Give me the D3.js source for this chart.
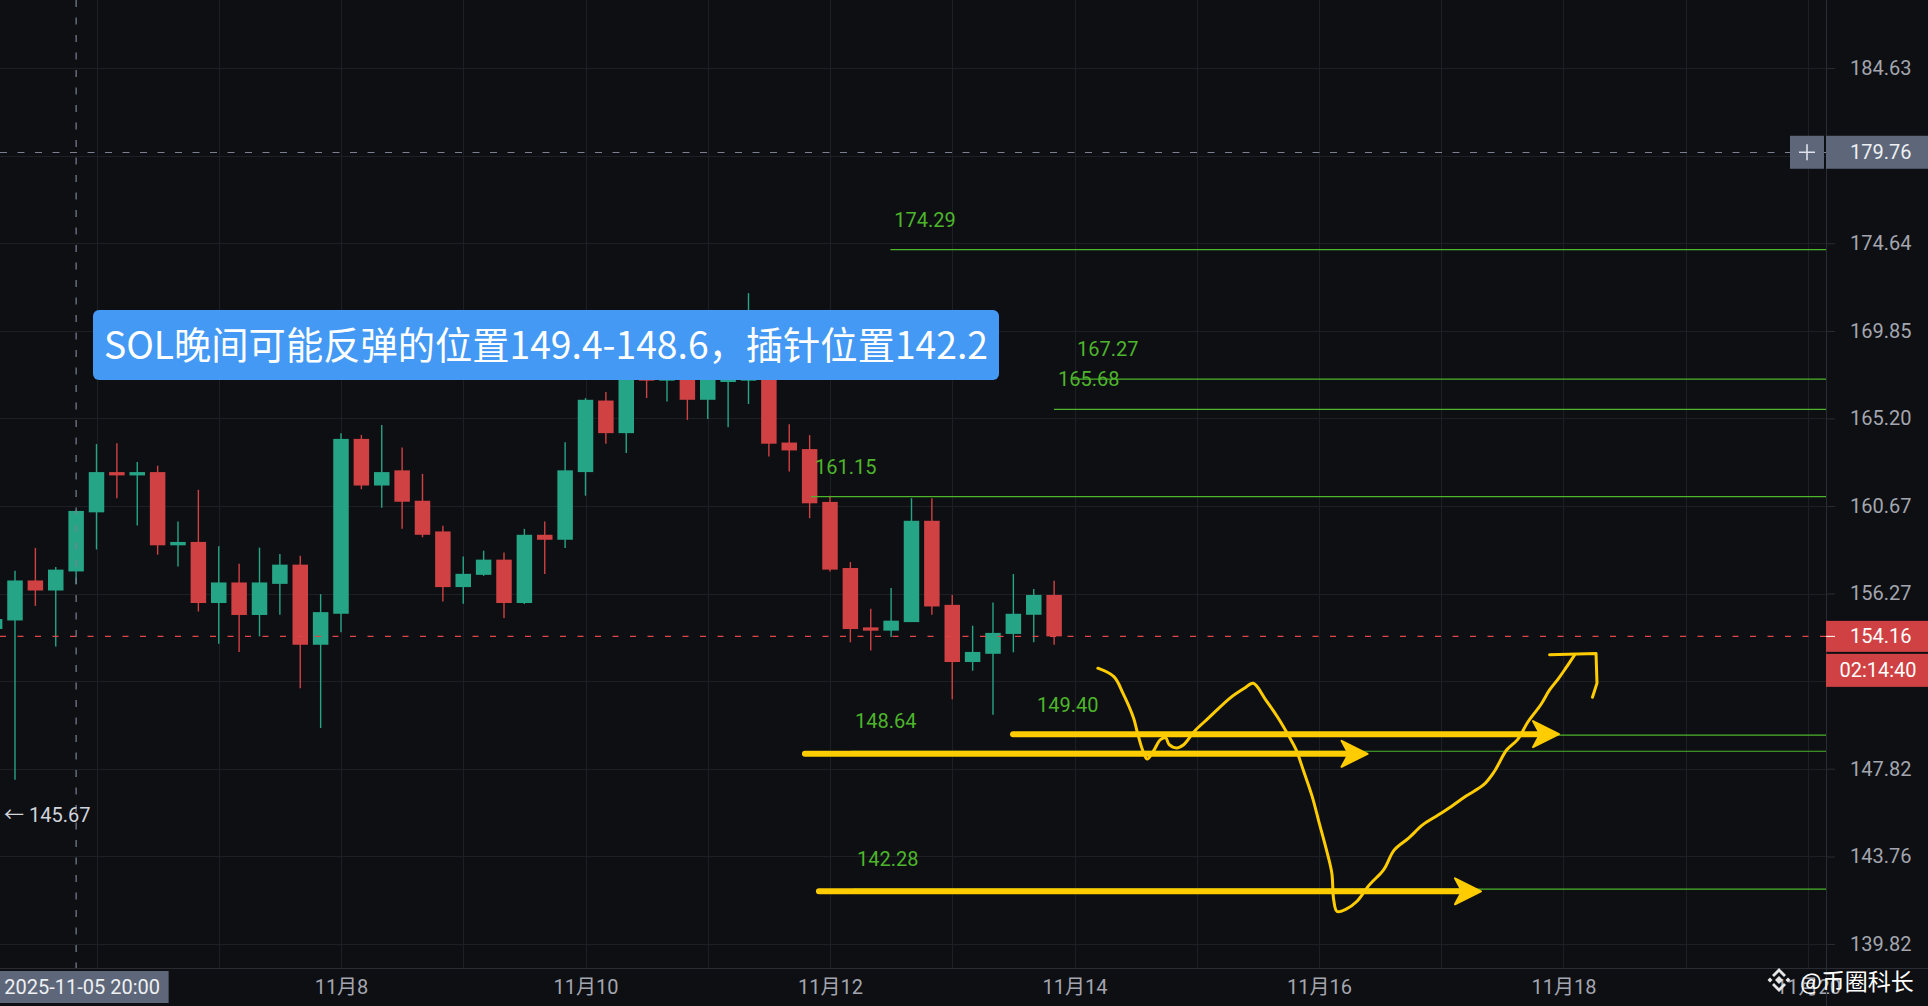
<!DOCTYPE html>
<html>
<head>
<meta charset="utf-8">
<script src="https://cdn.jsdelivr.net/npm/d3@7"></script>
<style>
  html, body { margin: 0; padding: 0; background: #0e0f13; overflow: hidden; }
  svg { display: block; }
</style>
</head>
<body>
<svg width="1928" height="1006"></svg>
<script>
// SOL/USDT 4h candles, first bar 2025-11-05 04:00, one bar every 4 hours
var firstBar = "2025-11-05 04:00";
var opens  = [154.52,154.94,156.92,156.42,157.37,160.35,162.41,162.24,162.41,158.68,
              158.85,155.80,156.82,155.21,156.75,157.71,153.75,155.27,164.13,161.72,
              162.50,160.94,159.38,156.59,157.20,157.96,155.80,159.21,158.96,162.41,
              166.14,164.43,167.56,167.19,167.61,166.18,167.12,167.19,167.56,163.94,
              163.60,160.88,157.54,154.60,154.44,154.86,159.92,155.71,152.91,153.31,
              154.28,155.22,156.20];
var highs  = [155.30,157.41,158.55,157.59,160.47,163.86,163.91,162.93,162.74,159.88,
              161.50,158.63,157.76,158.56,158.24,158.16,156.24,164.43,164.34,164.86,
              163.68,162.32,159.67,158.12,158.41,158.32,159.51,159.88,163.96,166.27,
              166.59,168.03,167.88,167.98,167.88,167.77,167.88,171.90,167.88,164.89,
              164.33,161.20,157.84,155.52,156.54,161.07,161.07,156.20,154.68,155.82,
              157.24,156.50,156.90];
var lows   = [154.20,147.30,155.66,153.67,156.74,158.47,161.07,159.68,158.21,157.62,
              155.38,153.80,153.40,154.16,155.22,151.64,149.74,154.36,161.53,160.58,
              159.51,159.08,155.87,155.76,157.15,155.06,155.75,157.24,158.55,161.20,
              163.88,163.40,166.27,166.09,165.12,165.17,164.74,165.96,163.22,162.44,
              160.05,157.37,153.87,153.47,154.13,154.86,155.22,151.12,152.49,150.37,
              153.38,153.87,153.75];
var closes = [155.01,156.92,156.42,157.46,160.42,162.41,162.24,162.41,158.68,158.85,
              155.80,156.82,155.21,156.82,157.71,153.75,155.35,164.13,161.72,162.41,
              160.89,159.21,156.59,157.25,157.96,155.80,159.21,158.96,162.50,166.18,
              164.43,167.66,167.19,167.61,166.18,167.45,167.56,167.50,163.88,163.53,
              160.81,157.46,154.52,154.44,154.93,159.92,155.63,152.91,153.40,154.33,
              155.27,156.20,154.16];

// price scale (log): grid levels and the labels that are shown
var priceTop = 188.66, priceBottom = 138.76;
var yGrid   = [139.82, 143.76, 147.82, 151.98, 156.27, 160.67, 165.20, 169.85, 174.64, 179.57, 184.63];
var yLabels = [139.82, 143.76, 147.82, 156.27, 160.67, 165.20, 169.85, 174.64, 184.63];
var timeTicks = ["2025-11-08 00:00","2025-11-10 00:00","2025-11-12 00:00",
                 "2025-11-14 00:00","2025-11-16 00:00","2025-11-18 00:00","2025-11-20 00:00"];

// horizontal level drawings
var levelPrices = [174.29, 167.27, 165.68, 161.15, 149.40, 148.64, 142.28];
var levelStarts = ["2025-11-12 11:51","2025-11-13 23:43","2025-11-13 19:58","2025-11-11 20:17",
                   "2025-11-13 15:52","2025-11-12 04:08","2025-11-12 04:31"];

// yellow arrows
var arrowPrices = [149.45, 148.52, 142.18];
var arrowFrom   = ["2025-11-13 11:56","2025-11-11 19:05","2025-11-11 21:50"];
var arrowTo     = ["2025-11-17 23:07","2025-11-16 09:32","2025-11-17 07:48"];

// hand drawn path: days after 11-06 00:00, price
var sketchDays   = [8.191,8.322,8.396,8.483,8.512,8.556,8.594,8.644,8.703,8.746,8.775,8.834,8.893,
                    8.980,9.097,9.272,9.389,9.462,9.564,9.666,9.754,9.813,9.871,9.944,10.002,10.061,
                    10.105,10.120,10.148,10.222,10.309,10.412,10.528,10.616,10.733,10.850,10.966,
                    11.083,11.200,11.347,11.434,11.536,11.624,11.711,11.814,11.886,11.960,12.018,12.091];
var sketchPrices = [152.61,152.20,151.41,150.22,149.58,148.71,148.27,148.63,149.19,149.27,148.95,148.80,148.95,
                    149.58,150.22,151.17,151.64,151.88,151.09,150.22,149.35,148.71,147.76,146.53,145.29,144.06,
                    143.00,141.80,141.27,141.38,141.72,142.47,143.15,144.06,144.60,145.22,145.63,
                    146.06,146.53,147.07,147.69,148.71,149.19,150.05,150.85,151.56,152.12,152.61,153.26];
var hookDays   = [11.886, 12.266, 12.274, 12.237];
var hookPrices = [153.26, 153.33, 151.89, 151.21];

var crossTime = "2025-11-05 20:00", crossPrice = 179.76;
var lastPrice = 154.16, countdown = "02:14:40", lowMark = 145.67;
var title = "SOL晚间可能反弹的位置149.4-148.6，插针位置142.2";

var W = 1928, H = 1006, plotRight = 1826, plotBottom = 968;
var upColor = "#26a586", downColor = "#d04143", levelColor = "#4db52b", yellow = "#ffcc00";
var font = "Roboto, 'Noto Sans CJK SC', sans-serif";

var svg = d3.select("svg");
var parse = d3.timeParse("%Y-%m-%d %H:%M");
var day0 = parse("2025-11-06 00:00");

var x = d3.scaleTime()
    .domain([day0, parse("2025-11-20 00:00")])
    .range([96.5, 1808]);
var y = d3.scaleLog().domain([priceTop, priceBottom]).range([0, plotBottom]);
var barW = 15.5;

function dayTime(d) { return new Date(+day0 + d * 864e5); }

svg.append("rect").attr("width", W).attr("height", H).attr("fill", "#0e0f13");

svg.append("defs").append("clipPath").attr("id", "plot")
  .append("rect").attr("width", plotRight).attr("height", plotBottom);

// grid
var grid = svg.append("g").attr("clip-path", "url(#plot)");
grid.selectAll(".hg").data(yGrid).enter().append("line")
    .attr("x1", 0).attr("x2", plotRight)
    .attr("y1", function(d) { return Math.round(y(d)) + 0.5; })
    .attr("y2", function(d) { return Math.round(y(d)) + 0.5; })
    .attr("stroke", "#1d1f24");
grid.selectAll(".vg").data(d3.timeDay.range(day0, parse("2025-11-21 00:00"))).enter().append("line")
    .attr("x1", function(d) { return Math.round(x(d)) + 0.5; })
    .attr("x2", function(d) { return Math.round(x(d)) + 0.5; })
    .attr("y1", 0).attr("y2", plotBottom)
    .attr("stroke", "#1d1f24");

var plot = svg.append("g").attr("clip-path", "url(#plot)");

// candles
var bars = d3.range(opens.length).map(function(i) {
  return {t: d3.timeHour.offset(parse(firstBar), 4 * i), o: opens[i], h: highs[i], l: lows[i], c: closes[i]};
});
function col(d) { return d.c >= d.o ? upColor : downColor; }

var candle = plot.selectAll(".candle").data(bars).enter().append("g").attr("class", "candle");
candle.append("line")
    .attr("x1", function(d) { return x(d.t); })
    .attr("x2", function(d) { return x(d.t); })
    .attr("y1", function(d) { return y(d.h); })
    .attr("y2", function(d) { return y(d.l); })
    .attr("stroke", col).attr("stroke-width", 1.4);
candle.append("rect")
    .attr("x", function(d) { return x(d.t) - barW / 2; })
    .attr("width", barW)
    .attr("y", function(d) { return y(Math.max(d.o, d.c)); })
    .attr("height", function(d) { return Math.max(1.5, Math.abs(y(d.o) - y(d.c))); })
    .attr("fill", col);

// last price line
plot.append("line")
    .attr("x1", 0).attr("x2", plotRight)
    .attr("y1", y(lastPrice)).attr("y2", y(lastPrice))
    .attr("stroke", "#e04547").attr("stroke-width", 1.3).attr("stroke-dasharray", "6,11.5");

// crosshair
plot.append("line")
    .attr("x1", x(parse(crossTime))).attr("x2", x(parse(crossTime)))
    .attr("y1", 0).attr("y2", plotBottom)
    .attr("stroke", "#7b8091").attr("stroke-width", 1.2).attr("stroke-dasharray", "7,10.5");
plot.append("line")
    .attr("x1", 0).attr("x2", plotRight)
    .attr("y1", Math.round(y(crossPrice)) + 0.5).attr("y2", Math.round(y(crossPrice)) + 0.5)
    .attr("stroke", "#7b8091").attr("stroke-width", 1.2).attr("stroke-dasharray", "7,10.5");

// horizontal levels
var lev = plot.selectAll(".level").data(levelPrices).enter().append("g");
lev.append("line")
    .attr("x1", function(d, i) { return x(parse(levelStarts[i])); })
    .attr("x2", plotRight)
    .attr("y1", function(d) { return y(d); })
    .attr("y2", function(d) { return y(d); })
    .attr("stroke", levelColor).attr("stroke-width", 1.2);
lev.append("text")
    .attr("x", function(d, i) { return x(parse(levelStarts[i])) + 4; })
    .attr("y", function(d) { return y(d) - 23; })
    .attr("fill", levelColor)
    .style("font", "20px " + font)
    .text(function(d) { return d.toFixed(2); });

// low marker
plot.append("text")
    .attr("x", 4).attr("y", y(lowMark) + 7)
    .attr("fill", "#d1d4dc")
    .style("font", "20px " + font)
    .text("← " + lowMark.toFixed(2));

// note box
svg.append("rect")
    .attr("x", 93).attr("y", 310).attr("width", 906).attr("height", 70).attr("rx", 6)
    .attr("fill", "#4499f4");
svg.append("text")
    .attr("x", 104).attr("y", 359)
    .attr("textLength", 884).attr("lengthAdjust", "spacingAndGlyphs")
    .attr("fill", "#fff")
    .style("font", "38px 'Noto Sans CJK SC', sans-serif")
    .text(title);

// yellow drawings
var draw = svg.append("g").attr("clip-path", "url(#plot)");
arrowPrices.forEach(function(p, i) {
  var x0 = x(parse(arrowFrom[i])), x1 = x(parse(arrowTo[i])), yy = y(p);
  draw.append("line")
      .attr("x1", x0).attr("x2", x1 - 12).attr("y1", yy).attr("y2", yy)
      .attr("stroke", yellow).attr("stroke-width", 6).attr("stroke-linecap", "round");
  draw.append("path")
      .attr("d", "M" + x1 + "," + yy + "L" + (x1 - 26) + "," + (yy - 13) + "L" + (x1 - 19) + "," + yy +
                 "L" + (x1 - 26) + "," + (yy + 13) + "Z")
      .attr("fill", yellow).attr("stroke", yellow).attr("stroke-width", 2).attr("stroke-linejoin", "round");
});

var sketch = d3.line()
    .x(function(d) { return x(dayTime(d[0])); })
    .y(function(d) { return y(d[1]); })
    .curve(d3.curveCatmullRom);
draw.append("path")
    .attr("d", sketch(d3.zip(sketchDays, sketchPrices)))
    .attr("fill", "none").attr("stroke", yellow).attr("stroke-width", 3)
    .attr("stroke-linejoin", "round").attr("stroke-linecap", "round");
draw.append("path")
    .attr("d", sketch.curve(d3.curveLinear)(d3.zip(hookDays, hookPrices)))
    .attr("fill", "none").attr("stroke", yellow).attr("stroke-width", 3)
    .attr("stroke-linejoin", "round").attr("stroke-linecap", "round");

// axes
var yAxis = svg.append("g")
    .attr("transform", "translate(" + plotRight + ",0)")
    .call(d3.axisRight(y).tickValues(yLabels).tickFormat(d3.format(".2f")).tickSize(9).tickPadding(15));
yAxis.select(".domain").remove();
yAxis.selectAll("line").attr("stroke", "#2a2c33");
yAxis.selectAll("text").attr("fill", "#a3a6af").style("font", "20px " + font);

var xAxis = svg.append("g")
    .attr("transform", "translate(0," + plotBottom + ")")
    .call(d3.axisBottom(x).tickValues(timeTicks.map(parse))
      .tickFormat(function(d) { return "11月" + d.getDate(); }).tickSize(0).tickPadding(12));
xAxis.select(".domain").remove();
xAxis.selectAll("text").attr("fill", "#a3a6af").style("font", "20px " + font);

svg.append("line").attr("x1", plotRight + 0.5).attr("x2", plotRight + 0.5).attr("y1", 0).attr("y2", H)
    .attr("stroke", "#2a2c33");
svg.append("line").attr("x1", 0).attr("x2", W).attr("y1", plotBottom + 0.5).attr("y2", plotBottom + 0.5)
    .attr("stroke", "#2a2c33");

// crosshair labels
var slate = "#5d6779";
var cy = y(crossPrice);
svg.append("rect").attr("x", plotRight).attr("y", cy - 16.5).attr("width", W - plotRight).attr("height", 33)
    .attr("fill", slate);
svg.append("text").attr("x", 1850).attr("y", cy + 7).attr("fill", "#eef0f3")
    .style("font", "20px " + font).text(crossPrice.toFixed(2));
svg.append("rect").attr("x", 1790).attr("y", cy - 16.5).attr("width", 34).attr("height", 33)
    .attr("fill", slate);
svg.append("path").attr("d", "M1799," + cy + "H1815M1807," + (cy - 8) + "V" + (cy + 8))
    .attr("stroke", "#e0e3eb").attr("stroke-width", 1.6);

var cx = x(parse(crossTime));
svg.append("rect").attr("x", 0).attr("y", 971).attr("width", cx + 92.5).attr("height", 32)
    .attr("fill", slate);
svg.append("text").attr("x", cx + 6).attr("y", 994).attr("text-anchor", "middle").attr("fill", "#eef0f3")
    .style("font", "20px " + font).text(d3.timeFormat("%Y-%m-%d %H:%M")(parse(crossTime)));

// last price labels
var ly = y(lastPrice);
svg.append("rect").attr("x", plotRight).attr("y", ly - 15.5).attr("width", W - plotRight).attr("height", 31)
    .attr("fill", downColor);
svg.append("line").attr("x1", plotRight).attr("x2", plotRight + 9).attr("y1", ly).attr("y2", ly)
    .attr("stroke", "#fff");
svg.append("text").attr("x", 1850).attr("y", ly + 7).attr("fill", "#fff")
    .style("font", "20px " + font).text(lastPrice.toFixed(2));
svg.append("rect").attr("x", plotRight).attr("y", ly + 17.5).attr("width", W - plotRight).attr("height", 33)
    .attr("fill", downColor);
svg.append("text").attr("x", 1878).attr("y", ly + 41).attr("text-anchor", "middle").attr("fill", "#fff")
    .style("font", "20px " + font).text(countdown);

// watermark
var wm = svg.append("g").attr("transform", "translate(1779,980)").attr("fill", "#e6e6e6");
wm.append("path").attr("d", "M0,-4L4,0L0,4L-4,0Z");
wm.append("path").attr("d", "M-9,-2.5L-6.5,0L-9,2.5L-11.5,0ZM9,-2.5L11.5,0L9,2.5L6.5,0Z");
wm.append("path").attr("d", "M0,-12L7,-5L5,-3L0,-8L-5,-3L-7,-5Z");
wm.append("path").attr("d", "M0,12L7,5L5,3L0,8L-5,3L-7,5Z");
svg.append("text").attr("x", 1800).attr("y", 990).attr("fill", "#fff")
    .style("font", "23px 'Noto Sans CJK SC', sans-serif").text("@币圈科长");
</script>
</body>
</html>
